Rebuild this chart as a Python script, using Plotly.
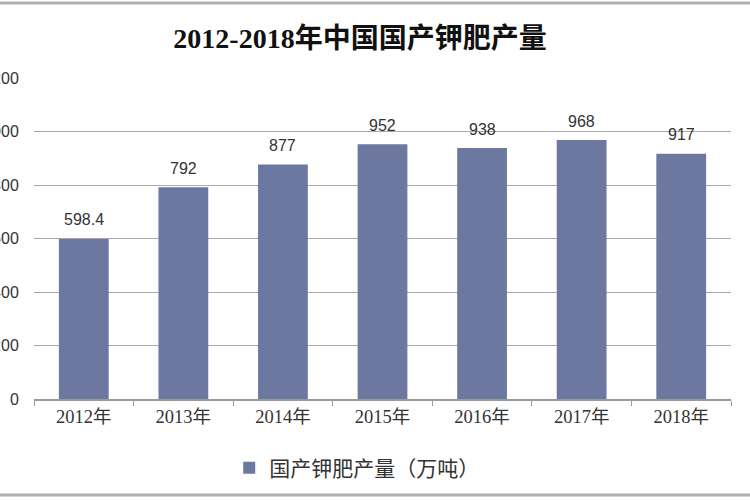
import plotly.graph_objects as go

years = ["2012年", "2013年", "2014年", "2015年", "2016年", "2017年", "2018年"]
values = [598.4, 792, 877, 952, 938, 968, 917]
value_labels = ["598.4", "792", "877", "952", "938", "968", "917"]
series_name = "国产钾肥产量（万吨）"
title_text = "2012-2018年中国国产钾肥产量"

W, H = 750, 500
ml, mr, mt, mb = 34, 19, 78, 101
ph = H - mt - mb
pw = W - ml - mr

fig = go.Figure()
fig.add_trace(go.Bar(
    x=years, y=values, name=series_name,
    marker=dict(color="#6d78a1", line=dict(width=0)),
    showlegend=True,
))

annotations = [
    dict(x=x, y=v, text=t, showarrow=False, xref="x", yref="y",
         yanchor="middle", yshift=19,
         font=dict(family="Liberation Sans, Arial", size=16, color="#333333"))
    for x, v, t in zip(years, values, value_labels)
]

def py(px_from_top):
    return (H - mb - px_from_top) / ph

fig.update_layout(
    width=W, height=H,
    margin=dict(l=ml, r=mr, t=mt, b=mb, autoexpand=False),
    paper_bgcolor="white", plot_bgcolor="white",
    bargap=0.5,
    title=dict(text="<b>" + title_text + "</b>", x=0.48, xanchor="center",
               y=1 - 38 / H, yanchor="middle",
               font=dict(family="Liberation Serif, Noto Sans CJK SC", size=28, color="#111111")),
    xaxis=dict(type="category", showgrid=False, showline=True, linecolor="#9a9a9a", linewidth=1.5,
               ticks="outside", tickson="boundaries", ticklen=5, tickcolor="#9a9a9a",
               tickfont=dict(family="Liberation Serif, Noto Sans CJK SC", size=18.5, color="#333333"),
               automargin=False),
    yaxis=dict(range=[0, 1200], dtick=200, showgrid=True, gridcolor="#a8a8a8", gridwidth=1.2,
               zeroline=False, showline=False, ticks="outside", ticklen=11, tickcolor="rgba(0,0,0,0)",
               tickfont=dict(family="Liberation Sans, Arial", size=16, color="#333333"),
               automargin=False),
    legend=dict(orientation="h", x=0.463, xanchor="center", y=py(468), yanchor="middle",
                font=dict(family="Noto Sans CJK SC", size=21, color="#333333"),
                itemwidth=30, bgcolor="rgba(0,0,0,0)"),
    annotations=annotations,
    shapes=[
        dict(type="line", xref="paper", yref="paper", x0=-ml / pw, x1=1 + mr / pw,
             y0=py(3), y1=py(3), line=dict(color="#b0b0b0", width=3)),
        dict(type="line", xref="paper", yref="paper", x0=-ml / pw, x1=1 + mr / pw,
             y0=py(495), y1=py(495), line=dict(color="#b0b0b0", width=3)),
    ],
)

fig.write_html("out.html", config={"displayModeBar": False},
               post_script="document.body.style.margin='0px';document.body.style.overflow='hidden';")
